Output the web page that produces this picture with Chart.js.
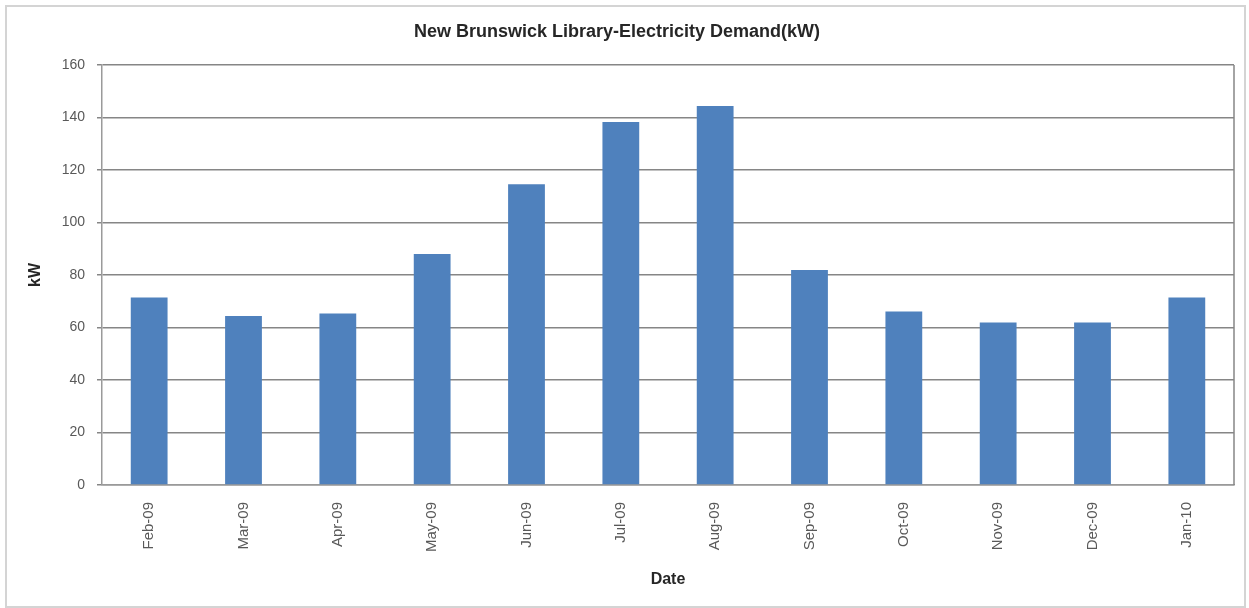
<!DOCTYPE html>
<html>
<head>
<meta charset="utf-8">
<script src="https://cdn.jsdelivr.net/npm/chart.js@4"></script>
<style>
  html, body { margin: 0; padding: 0; background: #fff; }
  #wrap { width: 1249px; height: 608px; }
</style>
</head>
<body>
<div id="wrap"><canvas id="demandChart" width="1249" height="608"></canvas></div>
<script>
// monthly peak demand, kW
const months = ['Feb-09','Mar-09','Apr-09','May-09','Jun-09','Jul-09','Aug-09','Sep-09','Oct-09','Nov-09','Dec-09','Jan-10'];
const demandKW = [71.4, 64.4, 65.3, 88.0, 114.6, 138.3, 144.4, 81.9, 66.1, 61.9, 61.9, 71.4];

const GRID_GREY = '#868686';
const TEXT_GREY = '#595959';
const FONT = "'Liberation Sans', Arial, sans-serif";

// outer chart frame + right edge of the plot area
const framePlugin = {
  id: 'frame',
  beforeDraw(chart) {
    const c = chart.ctx;
    c.save();
    c.fillStyle = '#fff';
    c.fillRect(0, 0, chart.width, chart.height);
    c.strokeStyle = '#d4d4d4';
    c.lineWidth = 2;
    c.strokeRect(6, 6, 1239, 601);
    c.restore();
  },
  afterDraw(chart) {
    const a = chart.chartArea;
    const c = chart.ctx;
    c.save();
    c.strokeStyle = GRID_GREY;
    c.lineWidth = 1.5;
    c.beginPath();
    c.moveTo(a.right, a.top);
    c.lineTo(a.right, a.bottom);
    c.stroke();
    c.restore();
  },
};

new Chart(document.getElementById('demandChart'), {
  type: 'bar',
  data: {
    labels: months,
    datasets: [{
      label: 'kW',
      data: demandKW,
      backgroundColor: '#4f81bd',
      borderWidth: 0,
      categoryPercentage: 1,
      barPercentage: 0.39,
    }],
  },
  options: {
    responsive: false,
    animation: false,
    layout: { padding: { left: 0, right: 15, top: 0, bottom: 0 } },
    plugins: {
      legend: { display: false },
      tooltip: { enabled: false },
      title: {
        display: true,
        text: 'New Brunswick Library-Electricity Demand(kW)',
        color: '#262626',
        font: { family: FONT, size: 18, weight: 'bold' },
        padding: { top: 21, bottom: 22.4 },
      },
    },
    scales: {
      x: {
        grid: { display: false, drawTicks: false },
        border: { display: true, color: '#9a9a9a', width: 1.5 },
        ticks: {
          color: TEXT_GREY,
          font: { family: FONT, size: 15 },
          minRotation: 90,
          maxRotation: 90,
          padding: 17,
        },
        title: {
          display: true,
          text: 'Date',
          color: '#262626',
          font: { family: FONT, size: 16, weight: 'bold' },
          padding: { top: 0, bottom: 19 },
        },
        afterFit: s => { s.height = 123; },
      },
      y: {
        min: 0,
        max: 160,
        ticks: {
          stepSize: 20,
          color: TEXT_GREY,
          font: { family: FONT, size: 14 },
          padding: 12,
        },
        grid: { color: GRID_GREY, lineWidth: 1.5, tickLength: 5 },
        border: { display: true, color: '#9a9a9a', width: 1.5 },
        title: {
          display: true,
          text: 'kW',
          color: '#262626',
          font: { family: FONT, size: 16, weight: 'bold' },
          padding: { top: 26, bottom: 0 },
        },
        afterFit: s => { s.width = 102; },
      },
    },
  },
  plugins: [framePlugin],
});
</script>
</body>
</html>
